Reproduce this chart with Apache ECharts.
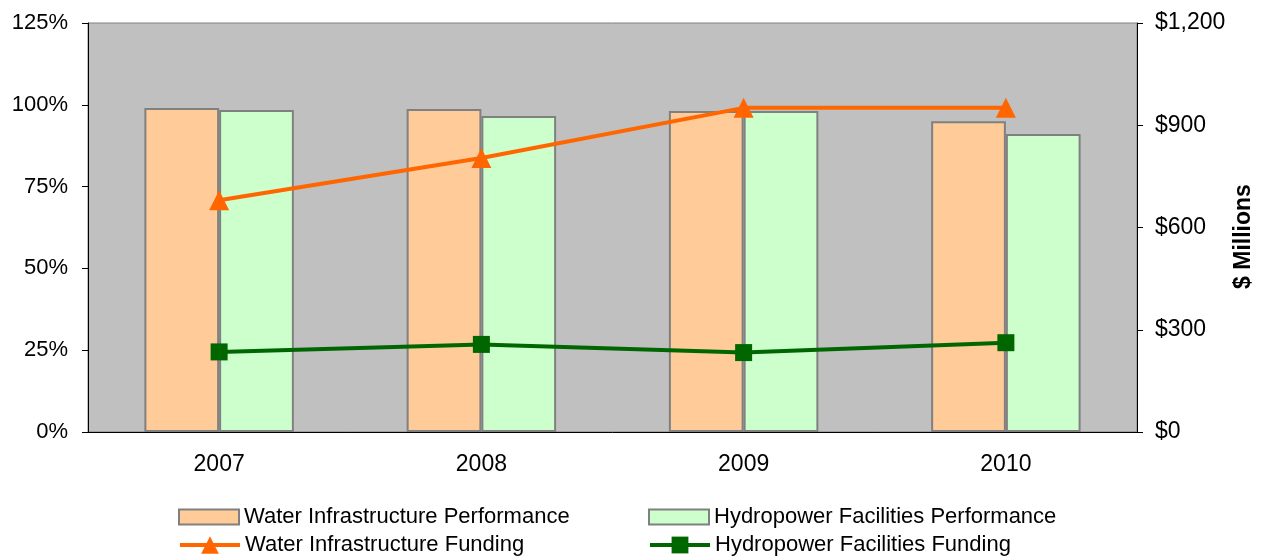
<!DOCTYPE html>
<html>
<head>
<meta charset="utf-8">
<script src="https://cdn.jsdelivr.net/npm/echarts@6/dist/echarts.min.js"></script>
<style>html,body{margin:0;padding:0;background:#fff}#c{width:1262px;height:560px}</style>
</head>
<body>
<div id="c"></div>
<script>
var categories = ['2007', '2008', '2009', '2010'];
var waterPerformance = [99.0, 98.7, 98.1, 95.0];
var hydroPerformance = [98.4, 96.6, 98.1, 91.1];
var waterFunding = [680, 804, 951, 951];
var hydroFunding = [235, 257, 233, 262];
var leftTicks = { min: 0, max: 125, interval: 25 };
var rightTicks = { min: 0, max: 1200, interval: 300 };

var font = 'Liberation Sans, Arial, sans-serif';
var legendText = { fontSize: 22, lineHeight: 22, color: '#000', fontFamily: font };
function legendRow(name, left, top, h, extra) {
  var item = Object.assign({ name: name }, extra || {});
  return {
    left: left, top: top, padding: 0, itemWidth: 60, itemHeight: h,
    textStyle: legendText, data: [item]
  };
}
var chart = echarts.init(document.getElementById('c'));
chart.setOption({
  animation: false,
  textStyle: { fontFamily: font },
  grid: {
    left: 88, right: 125, top: 23, bottom: 128, outerBoundsMode: 'none', containLabel: false,
    show: true, backgroundColor: '#c0c0c0', borderColor: '#808080', borderWidth: 1
  },
  legend: [
    legendRow('Water Infrastructure Performance', 178, 506, 15, { icon: 'rect' }),
    legendRow('Hydropower Facilities Performance', 648, 506, 15, { icon: 'rect' }),
    legendRow('Water Infrastructure Funding', 178, 534, 22, { lineStyle: { width: 4 } }),
    legendRow('Hydropower Facilities Funding', 648, 534, 21, { lineStyle: { width: 4 } })
  ],
  xAxis: {
    type: 'category', data: categories,
    axisLine: { lineStyle: { color: '#000' } },
    axisTick: { length: 6, lineStyle: { color: '#000' } },
    axisLabel: { fontSize: 23, color: '#000', margin: 21 }
  },
  yAxis: [{
    type: 'value', min: leftTicks.min, max: leftTicks.max, interval: leftTicks.interval,
    axisLine: { show: true, lineStyle: { color: '#000' } },
    axisTick: { show: true, length: 6, lineStyle: { color: '#000' } },
    axisLabel: { fontSize: 22, color: '#000', margin: 20, formatter: '{value}%' },
    splitLine: { show: false }
  }, {
    type: 'value', position: 'right', min: rightTicks.min, max: rightTicks.max, interval: rightTicks.interval,
    name: '$ Millions', nameLocation: 'middle', nameGap: 95, nameRotate: 90, nameMoveOverlap: false,
    nameTextStyle: { fontSize: 23, fontWeight: 'bold', color: '#000', padding: [0, 18, 0, 0] },
    axisLine: { show: true, lineStyle: { color: '#000' } },
    axisTick: { show: true, length: 6, lineStyle: { color: '#000' } },
    axisLabel: { fontSize: 23, color: '#000', margin: 18,
      formatter: function (v) { return '$' + v.toLocaleString('en-US'); } },
    splitLine: { show: false }
  }],
  series: [{
    name: 'Water Infrastructure Performance', type: 'bar', yAxisIndex: 0, data: waterPerformance,
    barGap: '0%', barCategoryGap: '43%',
    itemStyle: { color: '#FFCC99', borderColor: '#808080', borderWidth: 2 }
  }, {
    name: 'Hydropower Facilities Performance', type: 'bar', yAxisIndex: 0, data: hydroPerformance,
    itemStyle: { color: '#CCFFCC', borderColor: '#808080', borderWidth: 2 }
  }, {
    name: 'Water Infrastructure Funding', type: 'line', yAxisIndex: 1, data: waterFunding,
    symbol: 'triangle', symbolSize: 20, z: 5,
    lineStyle: { color: '#FF6600', width: 4 }, itemStyle: { color: '#FF6600' }
  }, {
    name: 'Hydropower Facilities Funding', type: 'line', yAxisIndex: 1, data: hydroFunding,
    symbol: 'rect', symbolSize: 17, z: 5,
    lineStyle: { color: '#006600', width: 4 }, itemStyle: { color: '#006600' }
  }]
});
</script>
</body>
</html>
